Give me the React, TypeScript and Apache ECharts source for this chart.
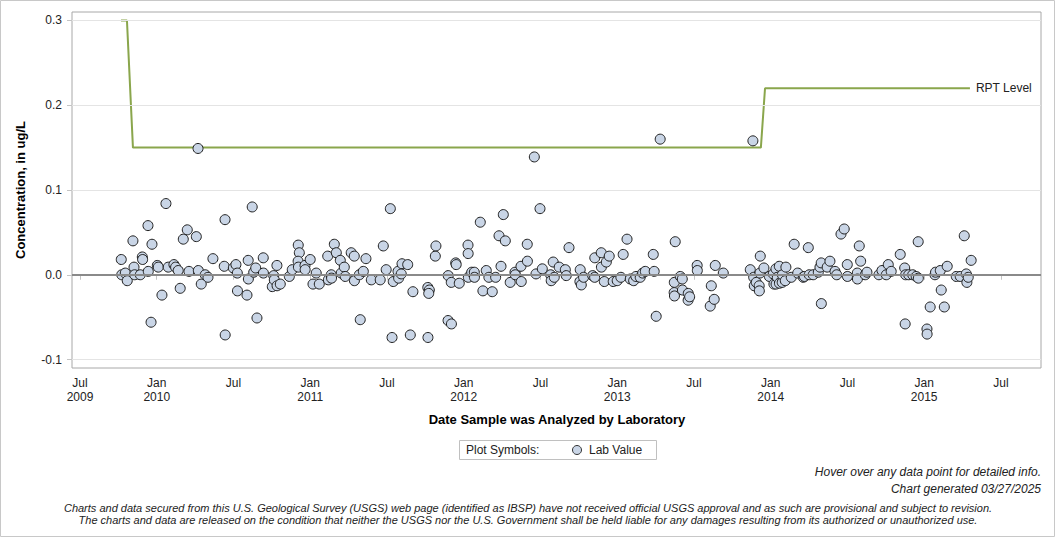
import React, { useEffect, useRef } from "react";
import * as echarts from "echarts";

// Sample analysis dates as decimal years, and the measured lab values (ug/L)
const sampleDates = [
  2009.769, 2009.772, 2009.795, 2009.808, 2009.845, 2009.852, 2009.856, 2009.893, 2009.906, 2009.908,
  2009.943, 2009.945, 2009.963, 2009.969, 2010.004, 2010.01, 2010.034, 2010.06, 2010.075, 2010.112,
  2010.123, 2010.14, 2010.153, 2010.173, 2010.199, 2010.21, 2010.258, 2010.269, 2010.271, 2010.29,
  2010.316, 2010.334, 2010.366,
  2010.44, 2010.445, 2010.446, 2010.499, 2010.516, 2010.525, 2010.526, 2010.588, 2010.596, 2010.597,
  2010.622, 2010.632, 2010.645, 2010.653, 2010.694, 2010.695, 2010.753, 2010.762, 2010.766, 2010.783,
  2010.784, 2010.805, 2010.864, 2010.883, 2010.922, 2010.929, 2010.921, 2010.923, 2010.966, 2010.967,
  2011.0, 2011.018, 2011.039, 2011.059, 2011.114, 2011.118,
  2011.137, 2011.139, 2011.157, 2011.17, 2011.196, 2011.202, 2011.222, 2011.228, 2011.267, 2011.287,
  2011.288, 2011.32, 2011.326, 2011.346, 2011.363, 2011.398, 2011.456, 2011.476, 2011.495, 2011.522,
  2011.533, 2011.541, 2011.572, 2011.576, 2011.593, 2011.598, 2011.635, 2011.652, 2011.669, 2011.767,
  2011.766, 2011.776, 2011.772, 2011.815, 2011.819,
  2011.899, 2011.919, 2011.898, 2011.92, 2011.948, 2011.951, 2011.971, 2012.028, 2012.029, 2012.03,
  2012.052, 2012.069, 2012.07, 2012.108, 2012.125, 2012.147, 2012.164, 2012.186, 2012.208, 2012.23,
  2012.243, 2012.258, 2012.271, 2012.303, 2012.334, 2012.336, 2012.373, 2012.375, 2012.414, 2012.415,
  2012.46, 2012.471, 2012.497, 2012.512,
  2012.566, 2012.57, 2012.583, 2012.59, 2012.622, 2012.662, 2012.668, 2012.686, 2012.759, 2012.757,
  2012.766, 2012.781, 2012.84, 2012.853, 2012.854, 2012.896, 2012.897, 2012.916, 2012.929, 2012.948,
  2012.974, 2013.0, 2013.024, 2013.039, 2013.064, 2013.085, 2013.107, 2013.122, 2013.15, 2013.166,
  2013.183,
  2013.235, 2013.241, 2013.254, 2013.28, 2013.371, 2013.372, 2013.373, 2013.378, 2013.411, 2013.424,
  2013.425, 2013.462, 2013.463, 2013.472, 2013.521, 2013.522, 2013.606, 2013.613, 2013.632, 2013.639,
  2013.691, 2013.867, 2013.884, 2013.889, 2013.893, 2013.906,
  2013.925, 2013.926, 2013.93, 2013.932, 2013.956, 2013.991, 2014.017, 2014.021, 2014.034, 2014.035,
  2014.043, 2014.056, 2014.057, 2014.075, 2014.076, 2014.095, 2014.099, 2014.134, 2014.153, 2014.176,
  2014.212, 2014.219, 2014.245, 2014.251, 2014.277, 2014.31, 2014.321, 2014.329, 2014.33, 2014.368,
  2014.386, 2014.419, 2014.43, 2014.458, 2014.479, 2014.499, 2014.5, 2014.564, 2014.565, 2014.577,
  2014.586,
  2014.616, 2014.627, 2014.705, 2014.725, 2014.753, 2014.766, 2014.785, 2014.844, 2014.873, 2014.876,
  2014.879, 2014.899, 2014.925, 2014.948, 2014.961, 2014.962, 2015.018, 2015.019, 2015.039, 2015.07,
  2015.074, 2015.105, 2015.111, 2015.131, 2015.15, 2015.209, 2015.235, 2015.261, 2015.274, 2015.278,
  2015.287, 2015.306,
];

const labValues = [
  0.018, 0.0, 0.002, -0.007, 0.04, 0.009, 0.0, 0.0, 0.021, 0.018,
  0.058, 0.004, -0.056, 0.036, 0.011, 0.009, -0.024, 0.084, 0.009, 0.012,
  0.009, 0.005, -0.016, 0.042, 0.053, 0.004, 0.045, 0.149, 0.005, -0.011,
  0.0, -0.003, 0.019,
  0.01, 0.065, -0.071, 0.008, 0.012, 0.002, -0.019, -0.024, 0.017, -0.005,
  0.08, 0.003, 0.008, -0.051, 0.02, 0.002, -0.014, -0.001, -0.006, 0.011,
  -0.013, -0.011, -0.002, 0.006, 0.035, 0.026, 0.016, 0.009, 0.011, 0.006,
  0.018, -0.011, 0.002, -0.011, 0.022, -0.006,
  0.0, -0.004, 0.036, 0.026, 0.017, 0.002, 0.009, -0.002, 0.026, 0.022,
  -0.007, 0.0, -0.053, 0.004, 0.019, -0.006, -0.006, 0.034, 0.006, 0.078,
  -0.074, -0.008, 0.004, -0.004, 0.001, 0.013, 0.012, -0.071, -0.02, -0.074,
  -0.015, -0.018, -0.022, 0.022, 0.034,
  -0.001, -0.009, -0.054, -0.058, 0.014, 0.012, -0.01, 0.035, 0.025, -0.003,
  0.003, 0.003, -0.003, 0.062, -0.019, 0.005, -0.003, -0.02, -0.003, 0.046,
  0.01, 0.071, 0.04, -0.009, 0.003, 0.0, 0.01, -0.008, 0.036, 0.016,
  0.139, 0.001, 0.078, 0.007,
  0.0, -0.007, 0.015, -0.003, 0.009, 0.006, -0.001, 0.032, 0.006, -0.008,
  -0.012, -0.003, -0.001, -0.003, 0.02, 0.026, 0.009, -0.008, 0.015, 0.022,
  -0.008, -0.007, -0.003, 0.024, 0.042, -0.005, -0.007, -0.002, -0.003, 0.002,
  0.004,
  0.024, 0.004, -0.049, 0.16, -0.021, -0.009, -0.025, 0.039, -0.002, -0.005,
  -0.018, -0.03, -0.022, -0.026, 0.011, 0.005, -0.037, -0.013, -0.029, 0.011,
  0.002, 0.006, 0.158, -0.003, -0.013, -0.009,
  -0.013, -0.019, 0.002, 0.022, 0.008, -0.002, 0.001, -0.011, 0.007, -0.011,
  -0.003, 0.01, -0.01, -0.009, 0.0, -0.007, 0.009, -0.003, 0.036, 0.002,
  -0.003, -0.002, 0.032, 0.0, 0.0, 0.003, 0.009, 0.014, -0.034, 0.009,
  0.016, 0.004, 0.0, 0.048, 0.054, 0.012, -0.002, 0.002, -0.005, 0.034,
  0.016,
  0.0, 0.003, 0.0, 0.005, 0.0, 0.012, 0.004, 0.024, 0.008, -0.058,
  0.0, 0.0, 0.0, -0.002, 0.039, -0.004, -0.064, -0.07, -0.038, 0.0,
  0.003, 0.005, -0.018, -0.038, 0.01, -0.002, -0.002, 0.046, 0.001, -0.009,
  -0.003, 0.017,
];

// Reporting level (RPT) over time
const rptDates = [2009.767, 2009.806, 2009.845, 2013.936, 2013.963, 2015.298];
const rptLevels = [0.3, 0.3, 0.15, 0.15, 0.22, 0.22];

// Axis ticks
const xTickDates = [2009.5, 2010, 2010.5, 2011, 2011.5, 2012, 2012.5, 2013, 2013.5, 2014, 2014.5, 2015, 2015.5];
const xTickLabels = [
  "Jul\n2009", "Jan\n2010", "Jul", "Jan\n2011", "Jul", "Jan\n2012", "Jul",
  "Jan\n2013", "Jul", "Jan\n2014", "Jul", "Jan\n2015", "Jul",
];
const yTickValues = [-0.1, 0, 0.1, 0.2, 0.3];
const yTickLabels = ["-0.1", "0.0", "0.1", "0.2", "0.3"];

const FONT = "'Liberation Sans', Arial, Helvetica, sans-serif";
const TEXT = "#222";
const MARKER_FILL = "#c9d5e6";
const RPT_GREEN = "#8aa64c";

function lookup(values: number[], labels: string[], v: number): string {
  const i = values.findIndex((t) => Math.abs(t - v) < 1e-6);
  return i >= 0 ? labels[i] : "";
}

export default function App() {
  const ref = useRef<HTMLDivElement>(null);

  useEffect(() => {
    if (!ref.current) return;
    const chart = echarts.init(ref.current, null, { renderer: "svg" });

    const points = sampleDates.map((d, i) => [d, labValues[i]]);
    const rpt = rptDates.map((d, i) => [d, rptLevels[i]]);

    const gridLines = yTickValues
      .filter((v) => v !== 0)
      .map((v) => ({ yAxis: v, lineStyle: { color: "#e4e4e4", width: 1, type: "solid" } }));

    chart.setOption({
      animation: false,
      backgroundColor: "#fff",
      textStyle: { fontFamily: FONT },
      grid: {
        left: 72,
        top: 12,
        width: 969,
        height: 356,
        show: true,
        borderColor: "#a8a8a8",
        borderWidth: 1,
        backgroundColor: "#fff",
      },
      xAxis: {
        type: "value",
        min: 2009.448,
        max: 2015.761,
        axisLine: { show: false },
        splitLine: { show: false },
        axisTick: {
          show: true,
          length: 5,
          customValues: xTickDates,
          lineStyle: { color: "#c4c4c4" },
        },
        axisLabel: {
          customValues: xTickDates,
          formatter: (v: number) => lookup(xTickDates, xTickLabels, v),
          color: TEXT,
          fontSize: 12,
          fontFamily: FONT,
          lineHeight: 14,
          margin: 8,
        },
      },
      yAxis: {
        type: "value",
        min: -0.11,
        max: 0.31,
        axisLine: { show: false },
        splitLine: { show: false },
        axisTick: {
          show: true,
          length: 5,
          customValues: yTickValues,
          lineStyle: { color: "#c4c4c4" },
        },
        axisLabel: {
          customValues: yTickValues,
          formatter: (v: number) => lookup(yTickValues, yTickLabels, v),
          color: TEXT,
          fontSize: 12,
          fontFamily: FONT,
          margin: 10,
        },
      },
      series: [
        {
          // reference lines: light grid at each tick, darker zero line
          type: "line",
          name: "grid",
          data: [],
          silent: true,
          z: 0,
          markLine: {
            silent: true,
            symbol: ["none", "none"],
            label: { show: false },
            data: [
              ...gridLines,
              { yAxis: 0, lineStyle: { color: "#8a8a8a", width: 2, type: "solid" } },
            ],
          },
        },
        {
          type: "line",
          name: "RPT Level",
          data: rpt,
          showSymbol: false,
          symbol: "none",
          silent: true,
          lineStyle: { color: RPT_GREEN, width: 2 },
          endLabel: {
            show: true,
            formatter: "RPT Level",
            color: TEXT,
            fontSize: 12,
            fontFamily: FONT,
            distance: 6,
          },
          z: 2,
        },
        {
          type: "scatter",
          name: "Lab Value",
          data: points,
          symbol: "circle",
          symbolSize: 10,
          itemStyle: { color: MARKER_FILL, borderColor: "#1e1e1e", borderWidth: 1, opacity: 1 },
          z: 3,
        },
      ],
      graphic: [
        {
          type: "rect",
          silent: true,
          shape: { x: 0.5, y: 0.5, width: 1054, height: 536 },
          style: { fill: "none", stroke: "#c8c8c8", lineWidth: 1 },
        },
        {
          type: "text",
          x: 20,
          y: 190,
          rotation: Math.PI / 2,
          style: {
            text: "Concentration, in ug/L",
            font: `bold 13px ${FONT}`,
            fill: "#000",
            align: "center",
            verticalAlign: "middle",
          },
        },
        {
          type: "text",
          x: 557,
          y: 419,
          style: {
            text: "Date Sample was Analyzed by Laboratory",
            font: `bold 13px ${FONT}`,
            fill: "#000",
            align: "center",
            verticalAlign: "middle",
          },
        },
        {
          type: "rect",
          shape: { x: 459.5, y: 440.5, width: 197, height: 19 },
          style: { fill: "#fff", stroke: "#c0c0c0", lineWidth: 1 },
        },
        {
          type: "text",
          x: 466,
          y: 450,
          style: { text: "Plot Symbols:", font: `12px ${FONT}`, fill: TEXT, verticalAlign: "middle" },
        },
        {
          type: "circle",
          shape: { cx: 577, cy: 450, r: 4.5 },
          style: { fill: MARKER_FILL, stroke: "#333", lineWidth: 1 },
        },
        {
          type: "text",
          x: 589,
          y: 450,
          style: { text: "Lab Value", font: `12px ${FONT}`, fill: TEXT, verticalAlign: "middle" },
        },
        {
          type: "text",
          x: 1041,
          y: 472,
          style: {
            text: "Hover over any data point for detailed info.",
            font: `italic 12px ${FONT}`,
            fill: TEXT,
            align: "right",
            verticalAlign: "middle",
          },
        },
        {
          type: "text",
          x: 1041,
          y: 489,
          style: {
            text: "Chart generated 03/27/2025",
            font: `italic 12px ${FONT}`,
            fill: TEXT,
            align: "right",
            verticalAlign: "middle",
          },
        },
        {
          type: "text",
          x: 528,
          y: 508,
          style: {
            text:
              "Charts and data secured from this U.S. Geological Survey (USGS) web page (identified as IBSP) have not received official USGS approval and as such are provisional and subject to revision.",
            font: `italic 11px ${FONT}`,
            fill: TEXT,
            align: "center",
            verticalAlign: "middle",
          },
        },
        {
          type: "text",
          x: 528,
          y: 520,
          style: {
            text:
              "The charts and data are released on the condition that neither the USGS nor the U.S. Government shall be held liable for any damages resulting from its authorized or unauthorized use.",
            font: `italic 11px ${FONT}`,
            fill: TEXT,
            align: "center",
            verticalAlign: "middle",
          },
        },
      ],
    });

    return () => chart.dispose();
  }, []);

  return (
    <div
      ref={ref}
      style={{ position: "fixed", left: 0, top: 0, width: 1056, height: 538 }}
    />
  );
}
